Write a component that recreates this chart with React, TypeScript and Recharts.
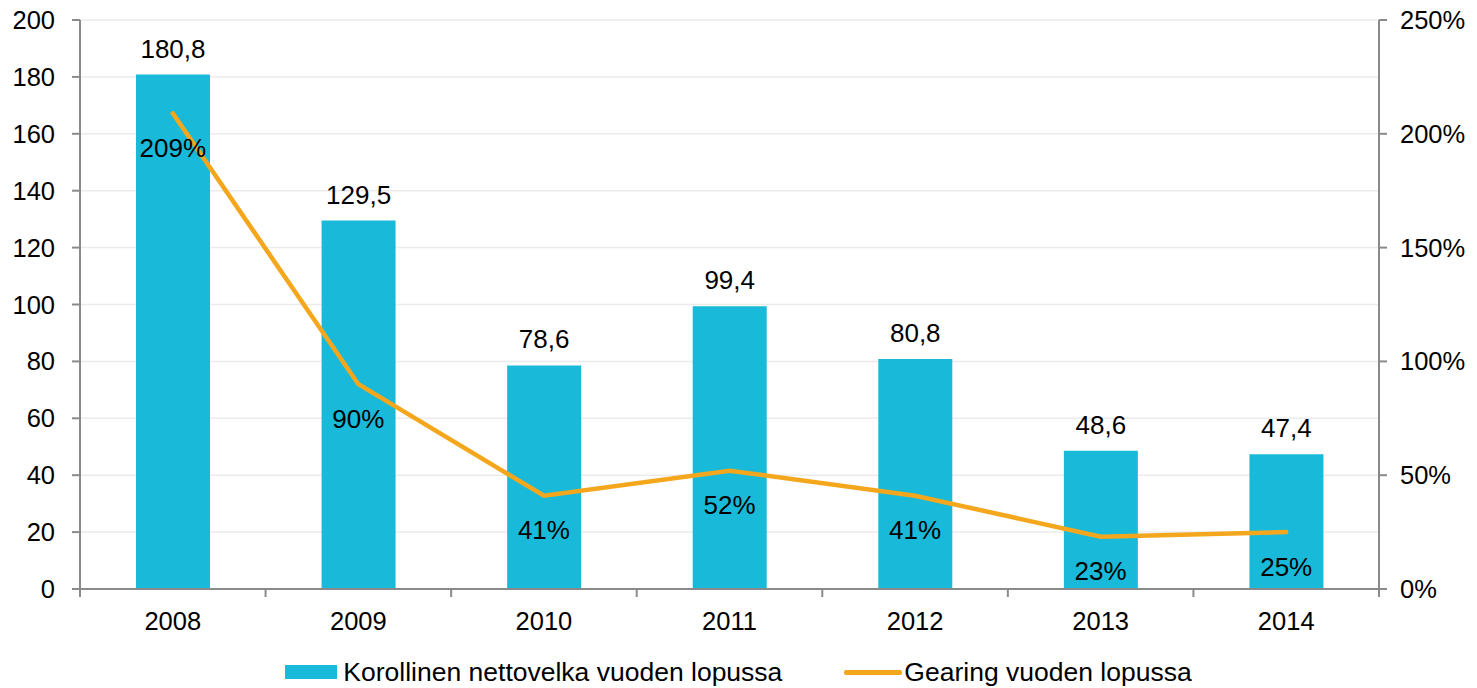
import { Bar, CartesianGrid, ComposedChart, LabelList, Legend, Line, XAxis, YAxis } from 'recharts'

const vuodet = ['2008', '2009', '2010', '2011', '2012', '2013', '2014']
const nettovelka = [180.8, 129.5, 78.6, 99.4, 80.8, 48.6, 47.4]
const gearing = [209, 90, 41, 52, 41, 23, 25]
const vasenTicks = [0, 20, 40, 60, 80, 100, 120, 140, 160, 180, 200]
const oikeaTicks = [0, 50, 100, 150, 200, 250]

const data = vuodet.map((v, i) => ({ vuosi: v, velka: nettovelka[i], gearing: gearing[i] }))

const FONT = '"Liberation Sans", Arial, sans-serif'
const SININEN = '#19BAD9'
const ORANSSI = '#F4A71D'
const AKSELI = '#8a8a8a'

const XTick = (props: any) => {
  const { x, y, payload, index, visibleTicksCount } = props
  const half = payload?.offset ?? 92.8
  const last = index === visibleTicksCount - 1
  return (
    <g>
      <line x1={x - half} x2={x - half} y1={y} y2={y + 8} stroke={AKSELI} strokeWidth={2} />
      {last && <line x1={x + half} x2={x + half} y1={y} y2={y + 8} stroke={AKSELI} strokeWidth={2} />}
      <text x={x} y={y + 32} textAnchor="middle" dominantBaseline="central" fontSize={25.5} fontFamily={FONT} fill="#000">
        {payload.value}
      </text>
    </g>
  )
}

const Selite = () => (
  <div
    style={{
      height: 30,
      display: 'flex',
      justifyContent: 'center',
      alignItems: 'center',
      fontFamily: FONT,
      fontSize: 26.5,
      color: '#000',
    }}
  >
    <span style={{ display: 'inline-block', width: 52, height: 14, background: SININEN, marginRight: 6 }} />
    <span>Korollinen nettovelka vuoden lopussa</span>
    <span style={{ display: 'inline-block', width: 58, height: 5, background: ORANSSI, marginLeft: 62, marginRight: 2, borderRadius: 2 }} />
    <span>Gearing vuoden lopussa</span>
  </div>
)

export default function App() {
  return (
    <div style={{ position: 'absolute', left: 0, top: 0, background: '#fff' }}>
      <ComposedChart width={1477} height={688} data={data} margin={{ top: 20, right: 10, left: 10, bottom: 1 }}>
        <CartesianGrid yAxisId="left" vertical={false} stroke="#ebebeb" strokeWidth={1.5} />
        <XAxis
          dataKey="vuosi"
          height={68}
          tickLine={false}
          tickSize={0}
          tickMargin={0}
          tick={<XTick />}
          interval={0}
          axisLine={{ stroke: AKSELI, strokeWidth: 2 }}
        />
        <YAxis
          yAxisId="left"
          width={70}
          domain={[0, 200]}
          ticks={vasenTicks}
          interval={0}
          tickSize={8}
          tickMargin={17}
          tick={{ fontSize: 25.5, fontFamily: FONT, fill: '#000' }}
          axisLine={{ stroke: AKSELI, strokeWidth: 2 }}
          tickLine={{ stroke: AKSELI, strokeWidth: 2 }}
        />
        <YAxis
          yAxisId="right"
          orientation="right"
          width={88}
          domain={[0, 250]}
          ticks={oikeaTicks}
          interval={0}
          tickSize={8}
          tickMargin={13}
          tickFormatter={(v: number) => `${v}%`}
          tick={{ fontSize: 25.5, fontFamily: FONT, fill: '#000', textAnchor: 'start' }}
          axisLine={{ stroke: AKSELI, strokeWidth: 2 }}
          tickLine={{ stroke: AKSELI, strokeWidth: 2 }}
        />
        <Legend verticalAlign="bottom" height={30} content={<Selite />} />
        <Bar yAxisId="left" dataKey="velka" name="Korollinen nettovelka vuoden lopussa" fill={SININEN} barSize={74} isAnimationActive={false}>
          <LabelList
            dataKey="velka"
            position="top"
            offset={17}
            formatter={(v: any) => Number(v).toFixed(1).replace('.', ',')}
            style={{ fontSize: 26, fontFamily: FONT, fill: '#000' }}
          />
        </Bar>
        <Line
          yAxisId="right"
          dataKey="gearing"
          name="Gearing vuoden lopussa"
          stroke={ORANSSI}
          strokeWidth={4.5}
          strokeLinecap="round"
          dot={false}
          activeDot={false}
          isAnimationActive={false}
        >
          <LabelList
            dataKey="gearing"
            position="bottom"
            offset={25}
            formatter={(v: any) => `${v}%`}
            style={{ fontSize: 26, fontFamily: FONT, fill: '#000' }}
          />
        </Line>
      </ComposedChart>
    </div>
  )
}
